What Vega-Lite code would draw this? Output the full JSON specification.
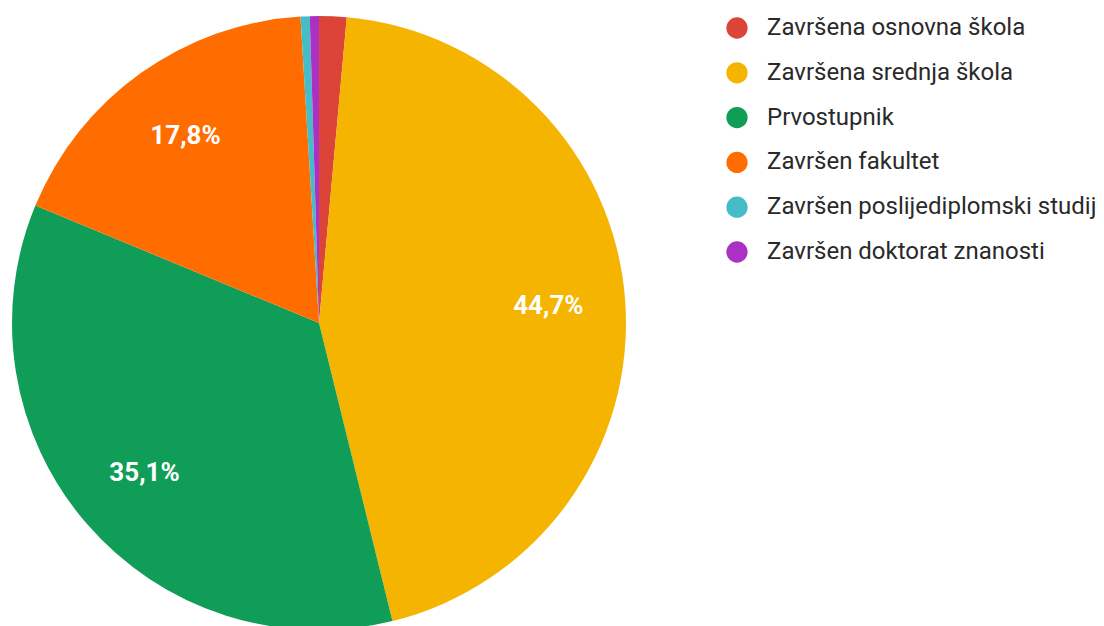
{
  "$schema": "https://vega.github.io/schema/vega-lite/v6.json",
  "autosize": {"type": "none"},
  "width": 638,
  "height": 646,
  "padding": {"left": 0, "top": 0, "right": 466, "bottom": 0},
  "background": "white",
  "config": {"view": {"stroke": null}, "font": "Roboto"},
  "data": {
    "values": [
      {"k": 1, "category": "Završena osnovna škola", "count": 3, "label": ""},
      {"k": 2, "category": "Završena srednja škola", "count": 93, "label": "44,7%"},
      {"k": 3, "category": "Prvostupnik", "count": 73, "label": "35,1%"},
      {"k": 4, "category": "Završen fakultet", "count": 37, "label": "17,8%"},
      {"k": 5, "category": "Završen poslijediplomski studij", "count": 1, "label": ""},
      {"k": 6, "category": "Završen doktorat znanosti", "count": 1, "label": ""}
    ]
  },
  "encoding": {
    "theta": {"field": "count", "type": "quantitative", "stack": true},
    "order": {"field": "k", "type": "quantitative"}
  },
  "layer": [
    {
      "mark": {"type": "arc", "radius": 307, "stroke": null},
      "encoding": {
        "color": {
          "field": "category",
          "type": "nominal",
          "sort": ["Završena osnovna škola", "Završena srednja škola", "Prvostupnik", "Završen fakultet", "Završen poslijediplomski studij", "Završen doktorat znanosti"],
          "scale": {
            "domain": ["Završena osnovna škola", "Završena srednja škola", "Prvostupnik", "Završen fakultet", "Završen poslijediplomski studij", "Završen doktorat znanosti"],
            "range": ["#db4437", "#f4b400", "#0f9d58", "#ff6d00", "#46bdc6", "#ab30c4"]
          },
          "legend": {
            "title": null,
            "orient": "none",
            "legendX": 725,
            "legendY": 16,
            "padding": 0,
            "symbolType": "circle",
            "symbolSize": 452,
            "symbolStrokeWidth": 0,
            "symbolOpacity": 1,
            "labelFont": "Roboto",
            "labelFontSize": 24,
            "labelColor": "#2a2a2a",
            "labelOffset": 18,
            "rowPadding": 20.8,
            "labelLimit": 400
          }
        }
      }
    },
    {
      "mark": {"type": "text", "radius": 230, "font": "Roboto", "fontSize": 26, "fontWeight": "bold", "fill": "white"},
      "encoding": {
        "text": {"field": "label", "type": "nominal"}
      }
    }
  ]
}
